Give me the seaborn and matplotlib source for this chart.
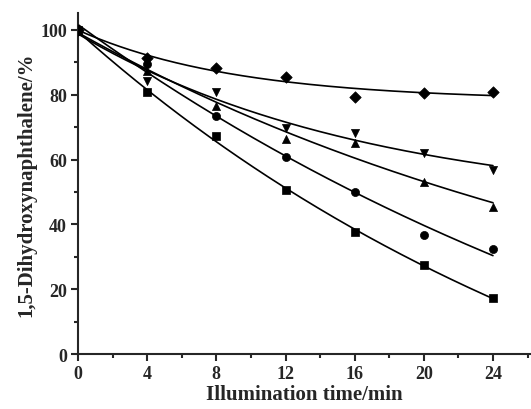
import numpy as np
import pandas as pd
import matplotlib
matplotlib.use("Agg")
import matplotlib.pyplot as plt
import seaborn as sns
from matplotlib.ticker import MultipleLocator

# Illumination time (min)
time_min = [0, 4, 8, 12, 16, 20, 24]

# Remaining 1,5-dihydroxynaphthalene (%) for each condition
diamond_vals = [100.0, 91.4, 88.2, 85.4, 79.3, 80.4, 80.8]
down_vals = [100.0, 84.3, 80.8, 69.8, 68.2, 62.0, 56.9]
up_vals = [100.0, 87.2, 76.4, 66.4, 65.1, 53.0, 45.3]
circle_vals = [100.0, 89.5, 73.3, 60.7, 50.1, 36.8, 32.4]
square_vals = [99.5, 80.7, 67.2, 50.6, 37.6, 27.6, 17.2]

series = [
    ("diamond", diamond_vals, "D"),
    ("down", down_vals, "v"),
    ("up", up_vals, "^"),
    ("circle", circle_vals, "o"),
    ("square", square_vals, "s"),
]


def exp_fit(t, y):
    """First-order decay y = y0 + A*exp(-k t), k by grid search, y0/A by least squares."""
    t = np.asarray(t, float)
    y = np.asarray(y, float)
    best = None
    for k in np.linspace(0.001, 0.3, 3000):
        M = np.column_stack([np.ones_like(t), np.exp(-k * t)])
        coef, *_ = np.linalg.lstsq(M, y, rcond=None)
        err = np.sum((M @ coef - y) ** 2)
        if best is None or err < best[0]:
            best = (err, k, coef)
    _, k, (y0, a) = best
    return lambda tt: y0 + a * np.exp(-k * tt)


sns.set_style("ticks")
plt.rcParams["font.family"] = ["Liberation Serif", "DejaVu Serif"]
plt.rcParams["font.weight"] = "bold"

fig = plt.figure(figsize=(5.31, 4.10), dpi=100)
ax = fig.add_axes([0.147, 0.134, 0.853, 0.832])

t_fine = np.linspace(0, 24, 200)
for name, vals, mk in series:
    f = exp_fit(time_min, vals)
    fit_df = pd.DataFrame({"t": t_fine, "y": f(t_fine)})
    sns.lineplot(data=fit_df, x="t", y="y", ax=ax, color="black", lw=1.2)
    pts = pd.DataFrame({"t": time_min, "y": vals})
    sns.scatterplot(data=pts, x="t", y="y", ax=ax, marker=mk, color="black",
                    s=34, edgecolor="black", linewidth=0.5, zorder=3)

ax.set_xlim(0, 26.2)
ax.set_ylim(0, 105.2)
ax.xaxis.set_major_locator(MultipleLocator(4))
ax.xaxis.set_minor_locator(MultipleLocator(2))
ax.yaxis.set_major_locator(MultipleLocator(20))
ax.yaxis.set_minor_locator(MultipleLocator(10))
ax.tick_params(which="major", direction="out", length=5, width=1.5, labelsize=13, pad=3)
ax.tick_params(which="minor", direction="out", length=3, width=1.5)
for lab in ax.get_xticklabels() + ax.get_yticklabels():
    lab.set_fontweight("bold")

for side in ("top", "right"):
    ax.spines[side].set_visible(False)
for side in ("left", "bottom"):
    ax.spines[side].set_linewidth(1.5)

ax.set_xlabel("Illumination time/min", fontsize=15, fontweight="bold", labelpad=1)
ax.set_ylabel("1,5-Dihydroxynaphthalene/%", fontsize=15, fontweight="bold", labelpad=3)

fig.savefig("out.png", dpi=100)
